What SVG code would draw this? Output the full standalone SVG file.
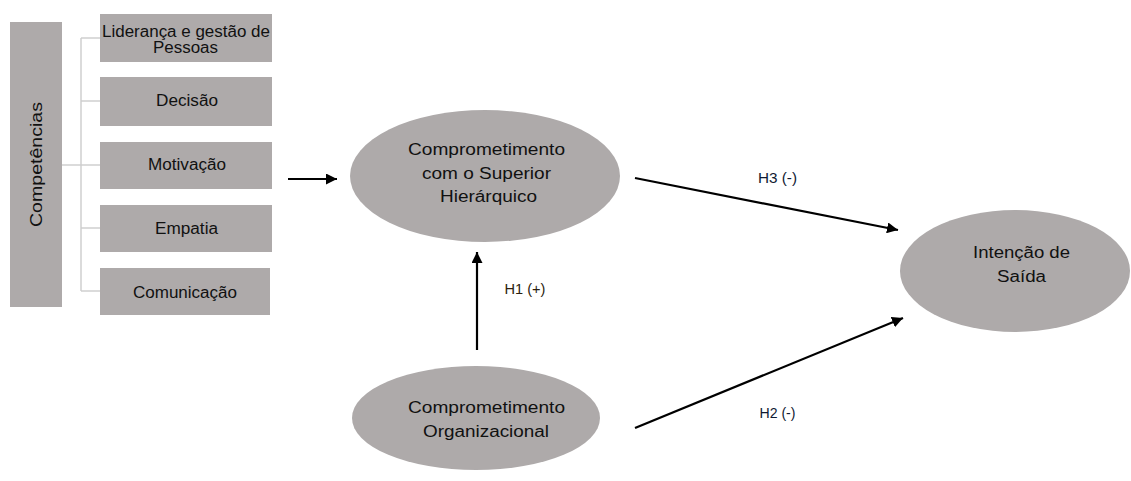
<svg xmlns="http://www.w3.org/2000/svg" width="1131" height="481" viewBox="0 0 1131 481">
<defs>
<marker id="ah" markerUnits="userSpaceOnUse" markerWidth="12" markerHeight="11" refX="11" refY="5.5" orient="auto">
<path d="M0,0 L11,5.5 L0,11 z" fill="#000"/>
</marker>
<style>
.box{fill:#aeaaaa;}
.ell{fill:#aeaaaa;}
.t{font-family:"Liberation Sans",Arial,sans-serif;fill:#111;text-anchor:middle;}
.big{font-size:16px;}
.lab{font-size:14.5px;}
.tree{stroke:#cfcfcf;stroke-width:1.5;fill:none;}
.arr{stroke:#000;stroke-width:2.2;fill:none;marker-end:url(#ah);}
</style>
</defs>
<rect width="1131" height="481" fill="#fff"/>
<g id="connectors">
<path class="tree" d="M62,165 H81 M81,38 V291 M81,38 H100 M81,101 H100 M81,165 H100 M81,228 H100 M81,291 H100"/>
<line class="arr" x1="288" y1="179" x2="337" y2="179"/>
<line class="arr" x1="477" y1="350" x2="477" y2="252"/>
<line class="arr" x1="635" y1="178" x2="898" y2="230"/>
<line class="arr" x1="635" y1="428" x2="903" y2="318"/>
<text class="t lab" x="525" y="294" textLength="41" lengthAdjust="spacingAndGlyphs" style="fill:#2b1d0e">H1 (+)</text>
<text class="t lab" x="777.5" y="183" textLength="39" lengthAdjust="spacingAndGlyphs" style="fill:#0f1a33">H3 (-)</text>
<text class="t lab" x="777.5" y="418" textLength="36" lengthAdjust="spacingAndGlyphs" style="fill:#0f1a33">H2 (-)</text>
</g>
<g id="competencias">
<rect class="box" x="10" y="22" width="52" height="285"/>
<text class="t" font-size="17" textLength="125" lengthAdjust="spacingAndGlyphs" transform="translate(41.5,164.5) rotate(-90)">Competências</text>
</g>
<g id="lideranca">
<rect class="box" x="100" y="14" width="172" height="48"/>
<text class="t big" x="186" y="37" textLength="168" lengthAdjust="spacingAndGlyphs">Liderança e gestão de</text>
<text class="t big" x="185.5" y="53" textLength="65" lengthAdjust="spacingAndGlyphs">Pessoas</text>
</g>
<g id="decisao">
<rect class="box" x="100" y="77" width="172" height="49"/>
<text class="t big" x="187" y="106" textLength="62" lengthAdjust="spacingAndGlyphs">Decisão</text>
</g>
<g id="motivacao">
<rect class="box" x="100" y="142" width="172" height="47"/>
<text class="t big" x="187" y="170" textLength="78" lengthAdjust="spacingAndGlyphs">Motivação</text>
</g>
<g id="empatia">
<rect class="box" x="100" y="205" width="172" height="47"/>
<text class="t big" x="186.5" y="234" textLength="63" lengthAdjust="spacingAndGlyphs">Empatia</text>
</g>
<g id="comunicacao">
<rect class="box" x="100" y="268" width="170" height="47"/>
<text class="t big" x="185" y="298" textLength="104" lengthAdjust="spacingAndGlyphs">Comunicação</text>
</g>
<g id="superior">
<ellipse class="ell" cx="485" cy="176" rx="135" ry="66"/>
<text class="t big" x="486.5" y="155" textLength="157" lengthAdjust="spacingAndGlyphs">Comprometimento</text>
<text class="t big" x="486.5" y="179" textLength="129" lengthAdjust="spacingAndGlyphs">com o Superior</text>
<text class="t big" x="488.5" y="202" textLength="97" lengthAdjust="spacingAndGlyphs">Hierárquico</text>
</g>
<g id="organizacional">
<ellipse class="ell" cx="476" cy="418" rx="124" ry="52"/>
<text class="t big" x="486.5" y="413" textLength="157" lengthAdjust="spacingAndGlyphs">Comprometimento</text>
<text class="t big" x="486" y="437" textLength="126" lengthAdjust="spacingAndGlyphs">Organizacional</text>
</g>
<g id="intencao">
<ellipse class="ell" cx="1015" cy="271" rx="115" ry="61"/>
<text class="t big" x="1021.5" y="258" textLength="97" lengthAdjust="spacingAndGlyphs">Intenção de</text>
<text class="t big" x="1021.5" y="282" textLength="49" lengthAdjust="spacingAndGlyphs">Saída</text>
</g>
</svg>
